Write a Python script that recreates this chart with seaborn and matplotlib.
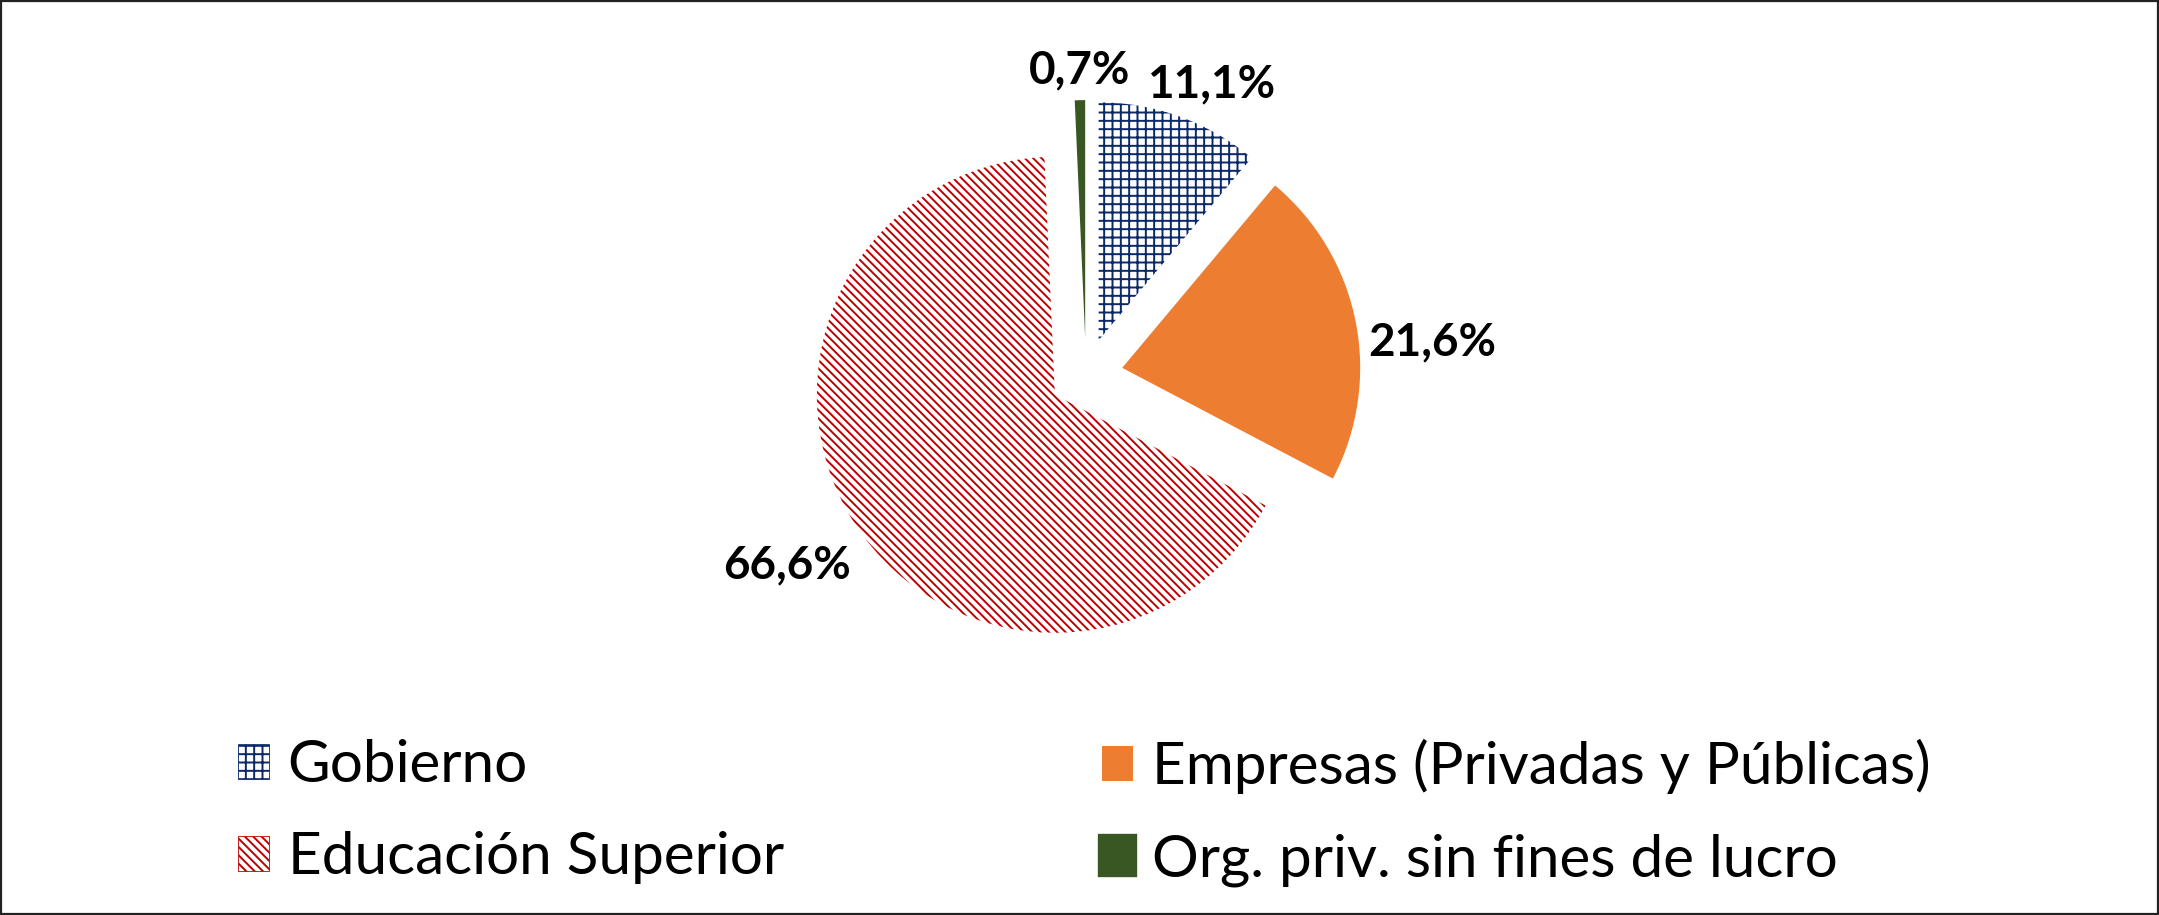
import matplotlib
matplotlib.use('Agg')
import matplotlib.pyplot as plt
from matplotlib import font_manager
from matplotlib.patches import Patch, Rectangle
import numpy as np
import seaborn as sns

# Data
sectores = ['Gobierno', 'Empresas (Privadas y Públicas)',
            'Educación Superior', 'Org. priv. sin fines de lucro']
porcentajes = [11.1, 21.6, 66.6, 0.7]
etiquetas = ['11,1%', '21,6%', '66,6%', '0,7%']

# Styles
colores = ['#0B2868', '#ED7D31', '#C00000', '#385723']
tramas = ['++', '', '\\\\\\\\', '']
explode = [0.155, 0.155, 0.155, 0.155]
label_r = [1.33, 1.46, 1.49, 1.28]      # distance from pie centre (radius units)
label_shift = [3.2, 5.8, 0.0, 0.0]      # clockwise shift from slice bisector (deg)

W, H = 2159, 915
R_PX = 238.0          # pie radius in pixels
CX, CY = 1086, 375    # pie centre in pixels (from top-left)

sns.set_theme(style='white')
names = {f.name for f in font_manager.fontManager.ttflist}
fam = 'Lato' if 'Lato' in names else 'DejaVu Sans'
leg_fs, lab_fs = 42, 33
plt.rcParams['font.family'] = [fam, 'DejaVu Sans']
plt.rcParams['text.color'] = 'black'
plt.rcParams['hatch.linewidth'] = 1.4

fig = plt.figure(figsize=(W / 100, H / 100), dpi=100)
ax = fig.add_axes([0, 0, 1, 1])

wedges, _ = ax.pie(porcentajes, explode=explode, startangle=90,
                   counterclock=False, radius=1,
                   wedgeprops=dict(linewidth=0))
for w, c, t in zip(wedges, colores, tramas):
    w.set_edgecolor(c)
    w.set_linewidth(0)
    if t:
        w.set_facecolor('white')
        w.set_hatch(t)
    else:
        w.set_facecolor(c)

for w, txt, r, s in zip(wedges, etiquetas, label_r, label_shift):
    mid = np.deg2rad((w.theta1 + w.theta2) / 2 - s)
    ax.text(r * np.cos(mid), r * np.sin(mid), txt, ha='center', va='center',
            fontsize=lab_fs, fontweight='bold', color='black')

ax.set_xlim(-CX / R_PX, (W - CX) / R_PX)
ax.set_ylim(-(H - CY) / R_PX, CY / R_PX)
ax.set_aspect('auto')
ax.axis('off')

# Legend, two columns
handles = []
for i, (c, t) in enumerate(zip(colores, tramas)):
    if t:
        handles.append(Patch(facecolor='white', edgecolor=c, hatch=t, linewidth=0.6))
    elif i == 3:
        # slightly bigger, rounded marker as in the original
        handles.append(Patch(facecolor=c, edgecolor=c, linewidth=6.0, joinstyle='round'))
    else:
        handles.append(Patch(facecolor=c, edgecolor=c, linewidth=0))

leg_kw = dict(loc='upper left', frameon=False, fontsize=leg_fs, labelcolor='black',
              handlelength=0.53, handleheight=0.53, handletextpad=0.32,
              labelspacing=0.67, borderpad=0, borderaxespad=0)
fig.legend([handles[0], handles[2]], [sectores[0], sectores[2]],
           bbox_to_anchor=(238 / W, 1 - 739 / H), **leg_kw)
fig.legend([handles[1], handles[3]], [sectores[1], sectores[3]],
           bbox_to_anchor=(1102 / W, 1 - 739 / H), **leg_kw)

fig.add_artist(Rectangle((0.0006, 0.0012), 0.9988, 0.9976, transform=fig.transFigure,
                         fill=False, edgecolor='#222222', linewidth=1.6))

fig.savefig('out.png', dpi=100)
